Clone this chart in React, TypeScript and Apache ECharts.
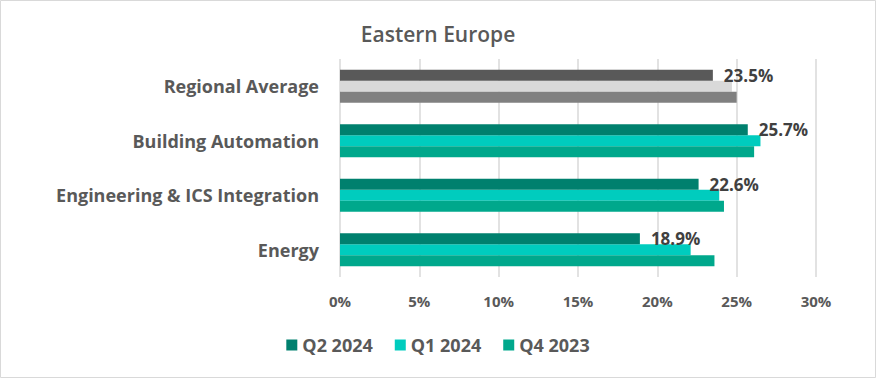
import React, { useEffect, useRef } from "react";
import * as echarts from "echarts";

const categories = ["Energy", "Engineering & ICS Integration", "Building Automation", "Regional Average"];
const q2_2024 = [18.9, 22.6, 25.7, 23.5];
const q1_2024 = [22.1, 23.9, 26.5, 24.7];
const q4_2023 = [23.6, 24.2, 26.1, 25.0];
const xTicks = [0, 5, 10, 15, 20, 25, 30];

const FONT = "'Open Sans', 'Noto Sans', sans-serif";

export default function App() {
  const ref = useRef<HTMLDivElement>(null);
  useEffect(() => {
    const chart = echarts.init(ref.current!, null, { renderer: "svg" });
    const isAvg = (i: number) => categories[i] === "Regional Average";
    const mk = (name: string, data: number[], color: string, gray: string, label: boolean) => ({
      name,
      type: "bar",
      data: data.map((v, i) => ({ value: v, itemStyle: { color: isAvg(i) ? gray : color } })),
      itemStyle: { color },
      barGap: "0%",
      barCategoryGap: "39%",
      z: label ? 3 : 2,
      label: label
        ? {
            show: true,
            position: "right",
            distance: 11,
            formatter: (p: any) => p.value.toFixed(1) + "%",
            fontFamily: FONT,
            fontWeight: "bold",
            fontSize: 17,
            color: "#404040",
          }
        : { show: false },
    });
    chart.setOption({
      animation: false,
      backgroundColor: "#ffffff",
      title: {
        text: "Eastern Europe",
        left: "center",
        top: 18,
        textStyle: { fontFamily: FONT, fontSize: 21, fontWeight: 600, color: "#595959" },
      },
      graphic: [
        {
          type: "rect",
          shape: { x: 0.5, y: 0.5, width: 875, height: 377 },
          style: { fill: "none", stroke: "#d9d9d9", lineWidth: 1 },
          silent: true,
        },
      ],
      legend: {
        bottom: 19,
        left: "center",
        itemWidth: 11,
        itemHeight: 11,
        itemGap: 22,
        icon: "rect",
        data: ["Q2 2024", "Q1 2024", "Q4 2023"],
        textStyle: { fontFamily: FONT, fontSize: 18, fontWeight: "bold", color: "#595959" },
      },
      grid: { left: 340, right: 60, top: 59, bottom: 101, containLabel: false },
      xAxis: {
        type: "value",
        min: 0,
        max: 30,
        interval: 5,
        axisLine: { show: false },
        axisTick: { show: false },
        splitLine: { show: true, lineStyle: { color: "#d9d9d9", width: 1.5 } },
        axisLabel: {
          formatter: (v: number) => (xTicks.includes(v) ? v + "%" : ""),
          fontFamily: FONT,
          fontSize: 15,
          fontWeight: "bold",
          color: "#595959",
          margin: 16,
        },
      },
      yAxis: {
        type: "category",
        data: categories,
        axisLine: { show: false },
        axisTick: { show: false },
        axisLabel: {
          fontFamily: FONT,
          fontSize: 18,
          fontWeight: "bold",
          color: "#595959",
          margin: 21,
        },
      },
      series: [
        mk("Q2 2024", q2_2024, "#00806e", "#595959", true),
        mk("Q1 2024", q1_2024, "#00ccbe", "#d9d9d9", false),
        mk("Q4 2023", q4_2023, "#00a88c", "#808080", false),
      ],
    });
    return () => chart.dispose();
  }, []);
  return (
    <div
      ref={ref}
      style={{ position: "fixed", left: 0, top: 0, width: 876, height: 378 }}
    />
  );
}
